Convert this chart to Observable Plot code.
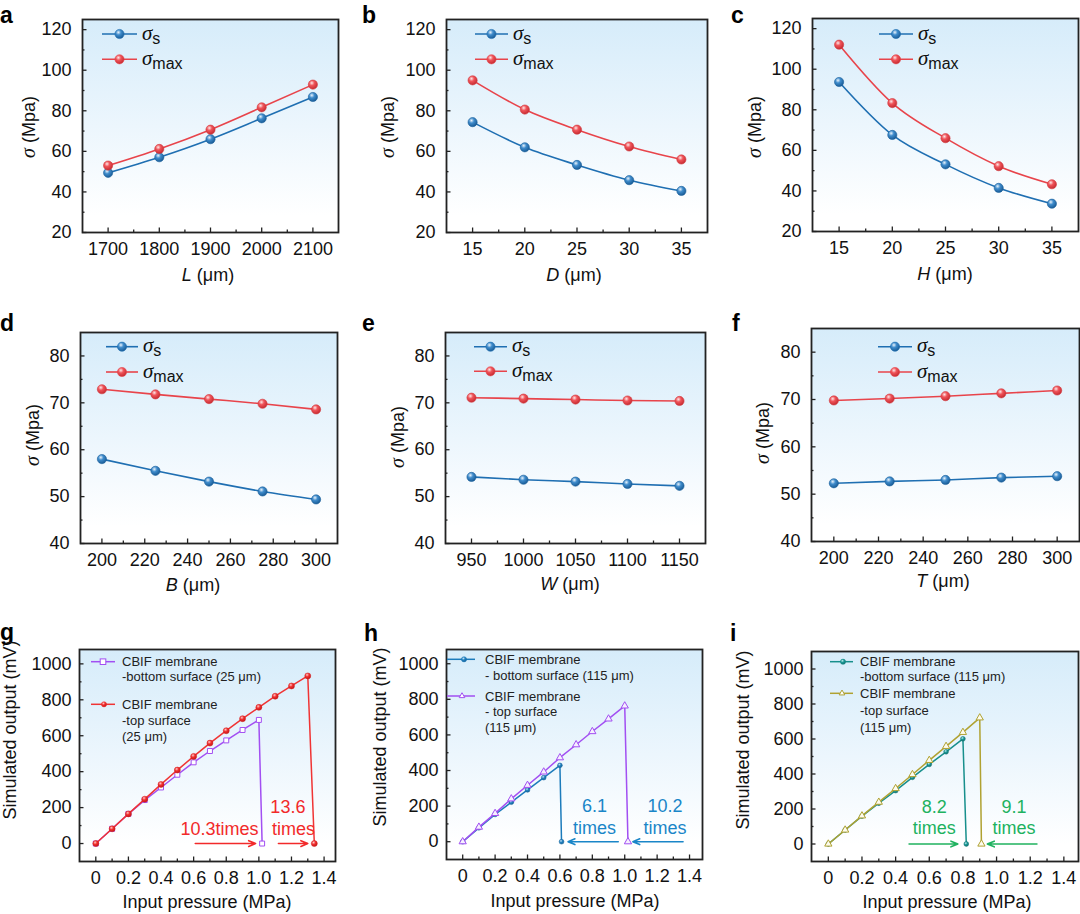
<!DOCTYPE html>
<html><head><meta charset="utf-8">
<script src="https://cdn.jsdelivr.net/npm/d3@7"></script>
<script src="https://cdn.jsdelivr.net/npm/@observablehq/plot@0.6"></script>
<style>
html,body{margin:0;padding:0;background:#fff;}
#root{position:relative;width:1080px;height:914px;overflow:hidden;font-family:"Liberation Sans",Arial,sans-serif;}
</style></head><body>
<svg width="0" height="0" style="position:absolute;left:0;top:0">
<defs>
<linearGradient id="bg" x1="0" y1="0" x2="0" y2="1">
<stop offset="0" stop-color="#d6ecfa"/><stop offset="0.5" stop-color="#ecf6fd"/><stop offset="0.92" stop-color="#ffffff"/>
</linearGradient>
<radialGradient id="ballBlue" cx="0.38" cy="0.32" r="0.7">
<stop offset="0" stop-color="#eaf3fb"/><stop offset="0.4" stop-color="#3f8ccc"/><stop offset="1" stop-color="#185a94"/>
</radialGradient>
<radialGradient id="ballRed" cx="0.38" cy="0.32" r="0.7">
<stop offset="0" stop-color="#fde8e8"/><stop offset="0.4" stop-color="#f0545a"/><stop offset="1" stop-color="#c42a30"/>
</radialGradient>
<radialGradient id="ballRed2" cx="0.38" cy="0.32" r="0.7">
<stop offset="0" stop-color="#ffc9c9"/><stop offset="0.45" stop-color="#f23030"/><stop offset="1" stop-color="#c01515"/>
</radialGradient>
<radialGradient id="ballBlue2" cx="0.38" cy="0.32" r="0.7">
<stop offset="0" stop-color="#cfe6f6"/><stop offset="0.45" stop-color="#2584c2"/><stop offset="1" stop-color="#135f96"/>
</radialGradient>
<radialGradient id="ballTeal" cx="0.38" cy="0.32" r="0.7">
<stop offset="0" stop-color="#c8eeee"/><stop offset="0.45" stop-color="#1b9a98"/><stop offset="1" stop-color="#0f6f6d"/>
</radialGradient>
</defs></svg>
<div id="root"></div>
<script>
// ---------------- data ----------------
const L_um = [1700, 1800, 1900, 2000, 2100];
const a_sigmaS = [49.4, 57.1, 66.0, 76.3, 86.8];
const a_sigmaMax = [53.0, 61.2, 70.7, 81.7, 92.9];

const D_um = [15, 20, 25, 30, 35];
const b_sigmaS = [74.4, 62.0, 53.3, 45.8, 40.5];
const b_sigmaMax = [95.0, 80.6, 70.7, 62.4, 56.0];

const H_um = [15, 20, 25, 30, 35];
const c_sigmaS = [93.7, 67.6, 53.1, 41.5, 33.7];
const c_sigmaMax = [112.1, 83.3, 66.0, 52.2, 43.3];

const B_um = [200, 225, 250, 275, 300];
const d_sigmaS = [58.0, 55.5, 53.2, 51.1, 49.4];
const d_sigmaMax = [72.9, 71.8, 70.8, 69.8, 68.6];

const W_um = [950, 1000, 1050, 1100, 1150];
const e_sigmaS = [54.2, 53.6, 53.2, 52.7, 52.3];
const e_sigmaMax = [71.1, 70.9, 70.7, 70.5, 70.4];

const T_um = [200, 225, 250, 275, 300];
const f_sigmaS = [52.3, 52.7, 53.0, 53.5, 53.8];
const f_sigmaMax = [69.8, 70.2, 70.7, 71.3, 71.9];

const g_bottomP = [0, 0.1, 0.2, 0.3, 0.4, 0.5, 0.6, 0.7, 0.8, 0.9, 1.0, 1.02];
const g_bottomV = [0, 82, 165, 242, 312, 383, 452, 515, 574, 632, 688, 0];
const g_topP = [0, 0.1, 0.2, 0.3, 0.4, 0.5, 0.6, 0.7, 0.8, 0.9, 1.0, 1.1, 1.2, 1.3, 1.34];
const g_topV = [0, 82, 165, 247, 329, 409, 485, 559, 628, 695, 758, 820, 877, 933, 0];

const h_bottomP = [0, 0.1, 0.2, 0.3, 0.4, 0.5, 0.6, 0.61];
const h_bottomV = [0, 78, 153, 222, 291, 360, 429, 0];
const h_topP = [0, 0.1, 0.2, 0.3, 0.4, 0.5, 0.6, 0.7, 0.8, 0.9, 1.0, 1.02];
const h_topV = [0, 82, 159, 241, 317, 392, 472, 545, 619, 690, 763, 0];

const i_bottomP = [0, 0.1, 0.2, 0.3, 0.4, 0.5, 0.6, 0.7, 0.8, 0.82];
const i_bottomV = [0, 80, 159, 233, 305, 381, 455, 527, 601, 0];
const i_topP = [0, 0.1, 0.2, 0.3, 0.4, 0.5, 0.6, 0.7, 0.8, 0.9, 0.91];
const i_topV = [0, 80, 161, 239, 317, 397, 478, 558, 638, 721, 0];

// annotations (data coordinates)
const g_notes = [{x: 1.178, y: 200, t: "13.6"}, {x: 0.758, y: 80, t: "10.3times"}, {x: 1.213, y: 80, t: "times"}];
const g_arrows = [{x1: 0.61, x2: 0.98, y: 0}, {x1: 1.12, x2: 1.30, y: 0}];
const h_notes = [{x: 0.813, y: 198, t: "6.1"}, {x: 0.813, y: 76, t: "times"}, {x: 1.248, y: 198, t: "10.2"}, {x: 1.248, y: 76, t: "times"}];
const h_arrows = [{x1: 0.96, x2: 0.65, y: 0}, {x1: 1.36, x2: 1.05, y: 0}];
const i_notes = [{x: 0.629, y: 212, t: "8.2"}, {x: 0.629, y: 89, t: "times"}, {x: 1.103, y: 212, t: "9.1"}, {x: 1.103, y: 89, t: "times"}];
const i_arrows = [{x1: 0.48, x2: 0.77, y: 0}, {x1: 1.24, x2: 0.945, y: 0}];

// ticks
const ticksStress1 = [20, 40, 60, 80, 100, 120];
const minorStress1 = [30, 50, 70, 90, 110];
const ticksStress2 = [40, 50, 60, 70, 80];
const minorStress2 = [45, 55, 65, 75];
const ticksOut = [0, 200, 400, 600, 800, 1000];
const minorOut = [100, 300, 500, 700, 900];
const ticksP = [0, 0.2, 0.4, 0.6, 0.8, 1.0, 1.2, 1.4];
const minorP = [0.1, 0.3, 0.5, 0.7, 0.9, 1.1, 1.3];

// ---------------- helpers ----------------
const BLUE = "#1f6fb2", RED = "#e8444b";
const root = document.getElementById("root");
const ser = (xs, ys) => xs.map((x, k) => ({x, y: ys[k]}));
const FONT = "'Liberation Sans', Arial, Helvetica, sans-serif";

function panel(cfg) {
  const [x0, y0, x1, y1] = cfg.frame;
  const ML = 80, MT = 3, MR = 1, MB = 40;
  const iw = x1 - x0, ih = y1 - y0;
  const tk = {stroke: "#222", strokeWidth: 1.3};
  const svg = Plot.plot({
    width: iw + ML + MR, height: ih + MT + MB,
    marginLeft: ML, marginTop: MT, marginRight: MR, marginBottom: MB,
    x: {domain: cfg.xDomain}, y: {domain: cfg.yDomain},
    style: {background: "transparent", fontFamily: FONT, fontSize: "18px", color: "#111", overflow: "visible"},
    marks: [
      Plot.frame({fill: "url(#bg)"}),
      Plot.tickX(cfg.xTicks, {x: d => d, insetTop: ih - 4.5, ...tk}),
      Plot.tickX(cfg.xMinor, {x: d => d, insetTop: ih - 2.5, ...tk}),
      Plot.tickY(cfg.yTicks, {y: d => d, insetRight: iw - 4.5, ...tk}),
      Plot.tickY(cfg.yMinor, {y: d => d, insetRight: iw - 2.5, ...tk}),
      Plot.axisX(cfg.xTicks, {tickSize: 0, tickPadding: 10, label: null, fontSize: 18, tickFormat: cfg.xFormat || (d => String(d))}),
      Plot.axisY(cfg.yTicks, {tickSize: 0, tickPadding: cfg.yPad, label: null, fontSize: 18, tickFormat: d => String(d)}),
      ...cfg.marks,
      Plot.frame({stroke: "#222", strokeWidth: 1.8})
    ]
  });
  svg.style.position = "absolute";
  svg.style.left = (x0 - ML) + "px";
  svg.style.top = (y0 - MT) + "px";
  root.appendChild(svg);
}

function stressMarks(xs, s, m) {
  return [
    Plot.line(ser(xs, s), {x: "x", y: "y", stroke: BLUE, strokeWidth: 1.6, curve: "monotone-x"}),
    Plot.line(ser(xs, m), {x: "x", y: "y", stroke: RED, strokeWidth: 1.6, curve: "monotone-x"}),
    Plot.dot(ser(xs, s), {x: "x", y: "y", r: 4.6, fill: "url(#ballBlue)", stroke: "#1a5f9c", strokeWidth: 0.6}),
    Plot.dot(ser(xs, m), {x: "x", y: "y", r: 4.6, fill: "url(#ballRed)", stroke: "#d33a40", strokeWidth: 0.6})
  ];
}

function noteMarks(notes, arrows, color) {
  return [
    Plot.text(notes, {x: "x", y: "y", text: "t", fill: color, fontSize: 18, textAnchor: "middle"}),
    Plot.arrow(arrows, {x1: "x1", x2: "x2", y1: "y", y2: "y", stroke: color, strokeWidth: 1.6, headLength: 7, headAngle: 45})
  ];
}

const fmtP = d => d === 0 ? "0" : d.toFixed(1);

// ---------------- panels ----------------
panel({frame: [82, 19, 338, 232], xDomain: [1650, 2150], yDomain: [20, 125],
  xTicks: L_um, xMinor: [1750, 1850, 1950, 2050], yTicks: ticksStress1, yMinor: minorStress1, yPad: 11,
  marks: stressMarks(L_um, a_sigmaS, a_sigmaMax)});
panel({frame: [446, 19, 707, 232], xDomain: [12.5, 37.5], yDomain: [20, 125],
  xTicks: D_um, xMinor: [17.5, 22.5, 27.5, 32.5], yTicks: ticksStress1, yMinor: minorStress1, yPad: 11,
  marks: stressMarks(D_um, b_sigmaS, b_sigmaMax)});
panel({frame: [812, 18, 1078, 231], xDomain: [12.5, 37.5], yDomain: [20, 125],
  xTicks: H_um, xMinor: [17.5, 22.5, 27.5, 32.5], yTicks: ticksStress1, yMinor: minorStress1, yPad: 11,
  marks: stressMarks(H_um, c_sigmaS, c_sigmaMax)});
panel({frame: [80, 332, 337, 543], xDomain: [190, 310], yDomain: [40, 85],
  xTicks: [200, 220, 240, 260, 280, 300], xMinor: [210, 230, 250, 270, 290], yTicks: ticksStress2, yMinor: minorStress2, yPad: 11,
  marks: stressMarks(B_um, d_sigmaS, d_sigmaMax)});
panel({frame: [445, 332, 705, 543], xDomain: [925, 1175], yDomain: [40, 85],
  xTicks: W_um, xMinor: [975, 1025, 1075, 1125], yTicks: ticksStress2, yMinor: minorStress2, yPad: 11,
  marks: stressMarks(W_um, e_sigmaS, e_sigmaMax)});
panel({frame: [811, 328, 1079, 541], xDomain: [190, 310], yDomain: [40, 85],
  xTicks: [200, 220, 240, 260, 280, 300], xMinor: [210, 230, 250, 270, 290], yTicks: ticksStress2, yMinor: minorStress2, yPad: 11,
  marks: stressMarks(T_um, f_sigmaS, f_sigmaMax)});

const PURPLE = "#a24ff2", RED2 = "#f03434", BLUE2 = "#1c7bbb", TEAL = "#178f8c", OLIVE = "#b0a232";
panel({frame: [79, 649, 335, 861], xDomain: [-0.1, 1.47], yDomain: [-100, 1080],
  xTicks: ticksP, xMinor: minorP, yTicks: ticksOut, yMinor: minorOut, yPad: 8, xFormat: fmtP,
  marks: [
    Plot.line(ser(g_bottomP, g_bottomV), {x: "x", y: "y", stroke: PURPLE, strokeWidth: 1.5}),
    Plot.dot(ser(g_bottomP, g_bottomV), {x: "x", y: "y", symbol: "square", r: 2.8, fill: "white", stroke: PURPLE, strokeWidth: 1}),
    Plot.line(ser(g_topP, g_topV), {x: "x", y: "y", stroke: RED2, strokeWidth: 1.5}),
    Plot.dot(ser(g_topP, g_topV), {x: "x", y: "y", r: 3, fill: "url(#ballRed2)", stroke: "#d42020", strokeWidth: 0.5}),
    ...noteMarks(g_notes, g_arrows, "#f22a2a")
  ]});
panel({frame: [446, 649, 702, 859], xDomain: [-0.1, 1.48], yDomain: [-100, 1080],
  xTicks: ticksP, xMinor: minorP, yTicks: ticksOut, yMinor: minorOut, yPad: 8, xFormat: fmtP,
  marks: [
    Plot.line(ser(h_bottomP, h_bottomV), {x: "x", y: "y", stroke: BLUE2, strokeWidth: 1.5}),
    Plot.dot(ser(h_bottomP, h_bottomV), {x: "x", y: "y", r: 2.4, fill: "url(#ballBlue2)", stroke: "#16679f", strokeWidth: 0.5}),
    Plot.line(ser(h_topP, h_topV), {x: "x", y: "y", stroke: PURPLE, strokeWidth: 1.5}),
    Plot.dot(ser(h_topP, h_topV), {x: "x", y: "y", symbol: "triangle", r: 2.7, fill: "#f6efff", stroke: PURPLE, strokeWidth: 1}),
    ...noteMarks(h_notes, h_arrows, "#1a86c8")
  ]});
panel({frame: [811, 651, 1078, 861], xDomain: [-0.1, 1.487], yDomain: [-100, 1100],
  xTicks: ticksP, xMinor: minorP, yTicks: ticksOut, yMinor: minorOut, yPad: 8, xFormat: fmtP,
  marks: [
    Plot.line(ser(i_bottomP, i_bottomV), {x: "x", y: "y", stroke: TEAL, strokeWidth: 1.5}),
    Plot.dot(ser(i_bottomP, i_bottomV), {x: "x", y: "y", r: 2.4, fill: "url(#ballTeal)", stroke: "#127572", strokeWidth: 0.5}),
    Plot.line(ser(i_topP, i_topV), {x: "x", y: "y", stroke: OLIVE, strokeWidth: 1.5}),
    Plot.dot(ser(i_topP, i_topV), {x: "x", y: "y", symbol: "triangle", r: 2.7, fill: "#fdfbee", stroke: OLIVE, strokeWidth: 1}),
    ...noteMarks(i_notes, i_arrows, "#20b25f")
  ]});

// ---------------- overlay: letters, axis titles, legends ----------------
const ov = d3.select(root).append("svg").attr("width", 1080).attr("height", 914)
  .style("position", "absolute").style("left", 0).style("top", 0).style("pointer-events", "none")
  .style("font-family", FONT);

const letters = [["a", 0, 23], ["b", 362, 23], ["c", 731, 23], ["d", 0, 331], ["e", 362, 331], ["f", 732, 331], ["g", 0, 640], ["h", 364, 641], ["i", 730, 641]];
ov.selectAll("text.letter").data(letters).join("text").attr("class", "letter")
  .attr("x", d => d[1]).attr("y", d => d[2]).attr("font-size", 23).attr("font-weight", "bold").attr("fill", "#000").text(d => d[0]);

// x-axis titles: [italic var, cx, baseline]
const xTitles = [["L", 208, 281], ["D", 574, 281], ["H", 945, 280], ["B", 193, 591], ["W", 570, 590], ["T", 943, 587]];
xTitles.forEach(([v, cx, by]) => {
  const t = ov.append("text").attr("x", cx).attr("y", by).attr("text-anchor", "middle").attr("font-size", 18).attr("fill", "#111");
  t.append("tspan").attr("font-style", "italic").text(v);
  t.append("tspan").text(" (μm)");
});
[[207, 908], [575, 907], [947, 908]].forEach(([cx, by]) => {
  ov.append("text").attr("x", cx).attr("y", by).attr("text-anchor", "middle").attr("font-size", 18).attr("fill", "#111").text("Input pressure (MPa)");
});
// y-axis titles (rotated)
[[29, 127], [388, 127], [755, 127], [33, 435], [398, 437], [763, 433]].forEach(([cx, cy]) => {
  const t = ov.append("text").attr("transform", `translate(${cx + 6},${cy}) rotate(-90)`).attr("text-anchor", "middle").attr("font-size", 18).attr("fill", "#111");
  t.append("tspan").attr("font-style", "italic").attr("font-family", "'Liberation Serif', serif").attr("font-size", 20).text("σ");
  t.append("tspan").text(" (Mpa)");
});
[[10, 730], [380, 737], [743, 740]].forEach(([cx, cy]) => {
  ov.append("text").attr("transform", `translate(${cx + 6},${cy}) rotate(-90)`).attr("text-anchor", "middle").attr("font-size", 18).attr("fill", "#111").text("Simulated output (mV)");
});

// stress legends: [lineStart, lineEnd, y1, y2]
const sLeg = [[102, 137, 34, 59.3], [475, 508, 34, 59.3], [879, 913, 34, 59.3], [106, 138, 346.7, 372], [474, 507, 346.7, 371.3], [878, 912, 346.7, 372]];
sLeg.forEach(([a, b, ya, yb]) => {
  [[ya, BLUE, "url(#ballBlue)", "s"], [yb, RED, "url(#ballRed)", "max"]].forEach(([y, col, fill, sub]) => {
    ov.append("line").attr("x1", a).attr("x2", b).attr("y1", y).attr("y2", y).attr("stroke", col).attr("stroke-width", 1.6);
    ov.append("circle").attr("cx", (a + b) / 2).attr("cy", y).attr("r", 4.6).attr("fill", fill).attr("stroke", col).attr("stroke-width", 0.6);
    const t = ov.append("text").attr("x", b + 5).attr("y", y + 5.5).attr("fill", "#111");
    t.append("tspan").attr("font-style", "italic").attr("font-family", "'Liberation Serif', serif").attr("font-size", 21).text("σ");
    t.append("tspan").attr("font-size", 16).attr("dy", 4).text(sub);
  });
});

// output legends
function outLegend(entries) {
  entries.forEach(e => {
    ov.append("line").attr("x1", e.a).attr("x2", e.b).attr("y1", e.y).attr("y2", e.y).attr("stroke", e.col).attr("stroke-width", 1.5);
    if (e.sym === "square") {
      ov.append("rect").attr("x", e.m - 2.8).attr("y", e.y - 2.8).attr("width", 5.6).attr("height", 5.6).attr("fill", "white").attr("stroke", e.col);
    } else if (e.sym === "triangle") {
      ov.append("path").attr("transform", `translate(${e.m},${e.y})`).attr("d", d3.symbol(d3.symbolTriangle2, 2.7 * 2.7 * Math.PI)()).attr("fill", "white").attr("stroke", e.col);
    } else {
      ov.append("circle").attr("cx", e.m).attr("cy", e.y).attr("r", 2.6).attr("fill", e.fill).attr("stroke", e.col).attr("stroke-width", 0.5);
    }
    e.lines.forEach((s, k) => {
      ov.append("text").attr("x", e.tx).attr("y", e.ty[k] + 4.5).attr("font-size", 13).attr("fill", "#222").text(s);
    });
  });
}
outLegend([
  {a: 91, b: 115, y: 661.7, m: 103, col: PURPLE, sym: "square", tx: 122, ty: [661.7, 676.7], lines: ["CBIF membrane", "-bottom surface (25 μm)"]},
  {a: 91, b: 115, y: 704.3, m: 104, col: RED2, sym: "circle", fill: "url(#ballRed2)", tx: 122, ty: [704.3, 720, 736], lines: ["CBIF membrane", "-top surface", "(25 μm)"]}
]);
outLegend([
  {a: 447, b: 475, y: 659.3, m: 464, col: BLUE2, sym: "circle", fill: "url(#ballBlue2)", tx: 485, ty: [659.3, 675], lines: ["CBIF membrane", "- bottom surface (115 μm)"]},
  {a: 447, b: 475, y: 696, m: 462, col: PURPLE, sym: "triangle", tx: 485, ty: [696, 711.3, 727.3], lines: ["CBIF membrane", "- top surface", "(115 μm)"]}
]);
outLegend([
  {a: 830, b: 853, y: 661.7, m: 843, col: TEAL, sym: "circle", fill: "url(#ballTeal)", tx: 860, ty: [661.7, 676.7], lines: ["CBIF membrane", "-bottom surface (115 μm)"]},
  {a: 830, b: 853, y: 693.3, m: 842, col: OLIVE, sym: "triangle", tx: 860, ty: [693.3, 710, 727.3], lines: ["CBIF membrane", "-top surface", "(115 μm)"]}
]);
</script>
</body></html>
